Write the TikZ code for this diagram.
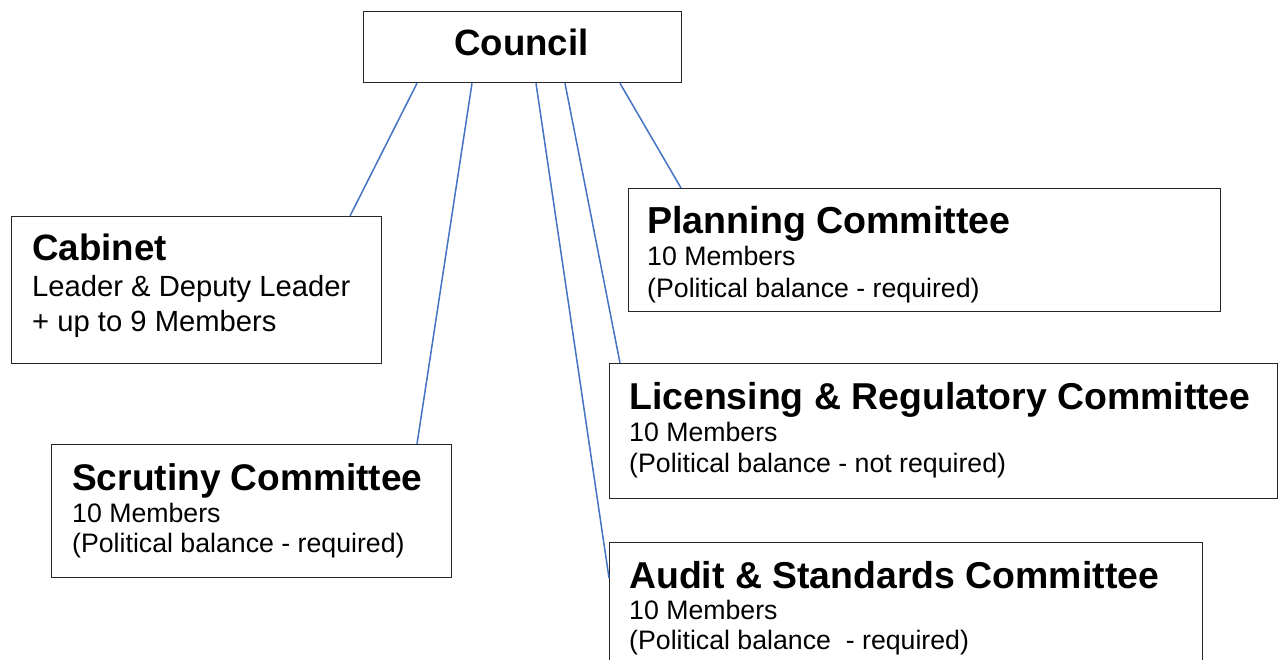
\documentclass[tikz,border=0pt]{standalone}
\usepackage{fontspec}
\setmainfont{Liberation Sans}
\definecolor{linkblue}{HTML}{4472C4}
\definecolor{boxline}{HTML}{262626}
\begin{document}
\begin{tikzpicture}[x=1pt,y=-1pt,
  box/.style={draw=boxline,line width=1.3pt,fill=white,rectangle,inner sep=0pt,anchor=north west},
  conn/.style={draw=linkblue,line width=1.5pt},
  ttl/.style={anchor=base west,inner sep=0pt,font=\fontsize{37.4}{40}\selectfont\bfseries},
  bdy/.style={anchor=base west,inner sep=0pt,font=\fontsize{26.7}{30}\selectfont},
  bdyl/.style={anchor=base west,inner sep=0pt,font=\fontsize{29.2}{33}\selectfont}]
\clip (0,0) rectangle (1283,659);
\fill[white] (0,0) rectangle (1283,659);
% boxes
\node[box,minimum width=318pt,minimum height=71pt] (council) at (363,11) {};
\node[box,minimum width=370pt,minimum height=147pt] (cab) at (11,216) {};
\node[box,minimum width=400pt,minimum height=133pt] (scr) at (51,444) {};
\node[box,minimum width=592pt,minimum height=123pt] (pla) at (628,188) {};
\node[box,minimum width=668pt,minimum height=135pt] (lic) at (609,363) {};
\node[box,minimum width=593pt,minimum height=140pt] (aud) at (609,542) {};
% connectors
\draw[conn] ([xshift=54pt]council.south west) -- ([xshift=339pt]cab.north west);
\draw[conn] ([xshift=109pt]council.south west) -- ([xshift=366pt]scr.north west);
\draw[conn] ([xshift=173pt]council.south west) -- ([yshift=-36pt]aud.north west);
\draw[conn] ([xshift=202pt]council.south west) -- ([xshift=11pt]lic.north west);
\draw[conn] ([xshift=257pt]council.south west) -- ([xshift=53pt]pla.north west);
% texts
\node[anchor=base,inner sep=0pt,font=\fontsize{36.6}{40}\selectfont\bfseries] (councilt) at (521.5,55) {Council};
\node[ttl,font=\fontsize{36.7}{40}\selectfont\bfseries] (cab1) at (32,260.5) {Cabinet};
\node[bdyl] (cab2) at (32,296.5) {Leader \& Deputy Leader};
\node[bdyl] (cab3) at (32,331.5) {+ up to 9 Members};
\node[ttl,font=\fontsize{37.1}{40}\selectfont\bfseries] (scr1) at (72,490.5) {Scrutiny Committee};
\node[bdy] (scr2) at (72,522.5) {10 Members};
\node[bdy] (scr3) at (72,552.5) {(Political balance - required)};
\node[ttl,font=\fontsize{37.6}{40}\selectfont\bfseries] (pla1) at (647,233.5) {Planning Committee};
\node[bdy] (pla2) at (647,265.5) {10 Members};
\node[bdy] (pla3) at (647,297.5) {(Political balance - required)};
\node[ttl] (lic1) at (629,409.5) {Licensing \& Regulatory Committee};
\node[bdy] (lic2) at (629,441.5) {10 Members};
\node[bdy] (lic3) at (629,472.5) {(Political balance - not required)};
\node[ttl] (aud1) at (629,588.5) {Audit \& Standards Committee};
\node[bdy] (aud2) at (629,619.5) {10 Members};
\node[bdy] (aud3) at (629,649.5) {(Political balance\ \ - required)};
\end{tikzpicture}
\end{document}
